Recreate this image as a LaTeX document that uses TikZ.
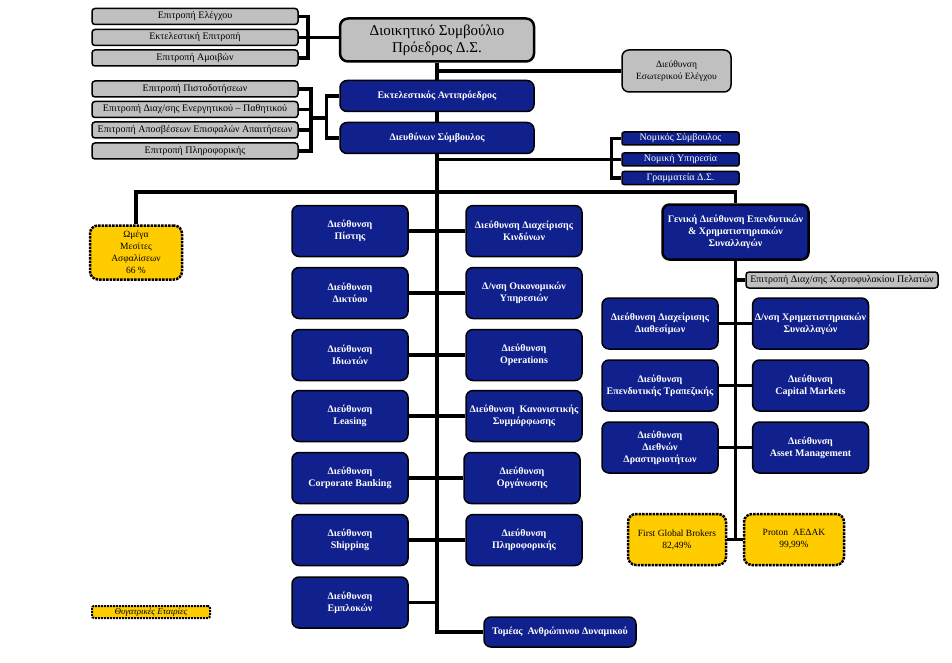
\documentclass[tikz,border=0pt]{standalone}
\usepackage{fontspec}
\setmainfont{Liberation Serif}
\usetikzlibrary{backgrounds}
\definecolor{navy}{RGB}{16,32,140}
\definecolor{boxgray}{RGB}{192,192,192}
\definecolor{gold}{RGB}{255,204,0}
\tikzset{
  base/.style={draw=black, line width=1.5, align=center, inner sep=1},
  bluebox/.style={base, fill=navy, text=white, rounded corners=7,
    font=\fontsize{10}{12}\selectfont\bfseries, minimum width=116, minimum height=51},
  smallblue/.style={base, fill=navy, text=white, rounded corners=2,
    font=\fontsize{10}{11}\selectfont, minimum width=117, minimum height=13},
  graybox/.style={base, fill=boxgray, rounded corners=3,
    font=\fontsize{10}{11}\selectfont, minimum width=206, minimum height=16},
  yellowbox/.style={fill=gold, draw=black, densely dotted, line width=2.5, rounded corners=8,
    align=center, inner sep=1, font=\fontsize{9.5}{12}\selectfont},
  conn/.style={line width=3.5, draw=black}
}
\begin{document}
\begin{tikzpicture}[x=1pt,y=-1pt]
\useasboundingbox (0,0) rectangle (952,663);
% committees group 1
\node[graybox] (k1) at (195,16.5) {Επιτροπή Ελέγχου};
\node[graybox] (k2) at (195,37.5) {Εκτελεστική Επιτροπή};
\node[graybox] (k3) at (195,58) {Επιτροπή Αμοιβών};
% committees group 2
\node[graybox] (k4) at (195,89) {Επιτροπή Πιστοδοτήσεων};
\node[graybox] (k5) at (195,109.5) {Επιτροπή Διαχ/σης Ενεργητικού – Παθητικού};
\node[graybox] (k6) at (195,130) {Επιτροπή Αποσβέσεων Επισφαλών Απαιτήσεων};
\node[graybox] (k7) at (195,151) {Επιτροπή Πληροφορικής};
% top
\node[base, fill=boxgray, line width=2.5, rounded corners=8, minimum width=194, minimum height=43,
  font=\fontsize{15}{17}\selectfont] (top) at (437,40) {Διοικητικό Συμβούλιο\\Πρόεδρος Δ.Σ.};
\node[base, fill=boxgray, rounded corners=7, minimum width=109, minimum height=42,
  font=\fontsize{9.5}{12}\selectfont] (ie) at (676.5,71) {Διεύθυνση\\Εσωτερικού Ελέγχου};
\node[bluebox, minimum width=194, minimum height=31] (ea) at (437,96) {Εκτελεστικός Αντιπρόεδρος};
\node[bluebox, minimum width=194, minimum height=31] (ds) at (437,138) {Διευθύνων Σύμβουλος};
% legal
\node[smallblue] (n1) at (680.5,138.5) {Νομικός Σύμβουλος};
\node[smallblue] (n2) at (680.5,159.5) {Νομική Υπηρεσία};
\node[smallblue] (n3) at (680.5,178) {Γραμματεία Δ.Σ.};
% subsidiary left
\node[yellowbox, minimum width=92, minimum height=54] (om) at (136,252.5) {Ωμέγα\\Μεσίτες\\Ασφαλίσεων\\66 \%};
% middle grid
\node[bluebox] (L1) at (350,231) {Διεύθυνση\\Πίστης};
\node[bluebox] (R1) at (524,231) {Διεύθυνση Διαχείρισης\\Κινδύνων};
\node[bluebox] (L2) at (350,293) {Διεύθυνση\\Δικτύου};
\node[bluebox] (R2) at (524,293) {Δ/νση Οικονομικών\\Υπηρεσιών};
\node[bluebox] (L3) at (350,355) {Διεύθυνση\\Ιδιωτών};
\node[bluebox] (R3) at (524,355) {Διεύθυνση\\Operations};
\node[bluebox] (L4) at (350,416) {Διεύθυνση\\Leasing};
\node[bluebox] (R4) at (524,416) {Διεύθυνση \ Κανονιστικής\\Συμμόρφωσης};
\node[bluebox] (L5) at (350,478) {Διεύθυνση\\Corporate Banking};
\node[bluebox] (R5) at (522,478) {Διεύθυνση\\Οργάνωσης};
\node[bluebox] (L6) at (350,540) {Διεύθυνση\\Shipping};
\node[bluebox] (R6) at (524,540) {Διεύθυνση\\Πληροφορικής};
\node[bluebox] (L7) at (350,602.5) {Διεύθυνση\\Εμπλοκών};
\node[bluebox, minimum width=152, minimum height=30] (hr) at (560,632) {Τομέας \ Ανθρώπινου Δυναμικού};
% right side
\node[bluebox, line width=2.5, minimum width=146, minimum height=55] (gd) at (735.5,232)
  {Γενική Διεύθυνση Επενδυτικών\\\& Χρηματιστηριακών\\Συναλλαγών};
\node[graybox, minimum width=192] (ep) at (842,280) {Επιτροπή Διαχ/σης Χαρτοφυλακίου Πελατών};
\node[bluebox] (A1) at (660,323.5) {Διεύθυνση Διαχείρισης\\Διαθεσίμων};
\node[bluebox] (B1) at (810.5,323.5) {Δ/νση Χρηματιστηριακών\\Συναλλαγών};
\node[bluebox] (A2) at (660,385.5) {Διεύθυνση\\Επενδυτικής Τραπεζικής};
\node[bluebox] (B2) at (810.5,385.5) {Διεύθυνση\\Capital Markets};
\node[bluebox] (A3) at (660,447.5) {Διεύθυνση\\Διεθνών\\Δραστηριοτήτων};
\node[bluebox] (B3) at (810.5,447.5) {Διεύθυνση\\Asset Management};
\node[yellowbox, minimum width=98, minimum height=51] (fg) at (677,539.5) {First Global Brokers\\82,49\%};
\node[yellowbox, minimum width=100, minimum height=51] (pr) at (794,539.5) {Proton \ ΑΕΔΑΚ\\99,99\%};
% legend
\node[yellowbox, line width=2, rounded corners=2, minimum width=118, minimum height=12,
  font=\fontsize{9}{10}\selectfont\itshape] (lg) at (151,612) {Θυγατρικές Εταιρίες};

% connectors
\begin{scope}[on background layer]
\coordinate (hy) at (0,192);
\draw[conn] (k1.east) -- ++(9,0) coordinate (b1) |- (k3.east);
\draw[conn] (b1 |- k2.east) -- (top.west |- k2.east);
\draw[conn] (k2.east) -- (b1 |- k2.east);
\draw[conn] (k4.east) -- ++(12,0) coordinate (b2) |- (k7.east);
\draw[conn] (k5.east) -- (b2 |- k5.east);
\draw[conn] (k6.east) -- (b2 |- k6.east);
\draw[conn] (ea.west) -- ++(-13,0) coordinate (b3) |- (ds.west);
\draw[conn] (b2 |- 0,118) -- (b3 |- 0,118);
\draw[conn] (top.south) |- (hr.west);
\draw[conn] (top.south |- ie.west) -- (ie.west);
\draw[conn] (n1.west) -- ++(-10,0) coordinate (b4) |- (n3.west);
\draw[conn] (top.south |- n2.west) -- (n2.west);
\draw[conn] (om.north) -- (om.north |- hy) -| (gd.north);
\foreach \i in {1,...,6} {\draw[conn] (L\i.east) -- (R\i.west);}
\draw[conn] (L7.east) -- (top.south |- L7.east);
\draw[conn] (gd.south) -- (gd.south |- fg.east);
\draw[conn] (fg.east) -- (pr.west);
\draw[conn] (gd.south |- ep.west) -- (ep.west);
\foreach \i in {1,2,3} {\draw[conn] (A\i.east) -- (B\i.west);}
\end{scope}
\end{tikzpicture}
\end{document}
